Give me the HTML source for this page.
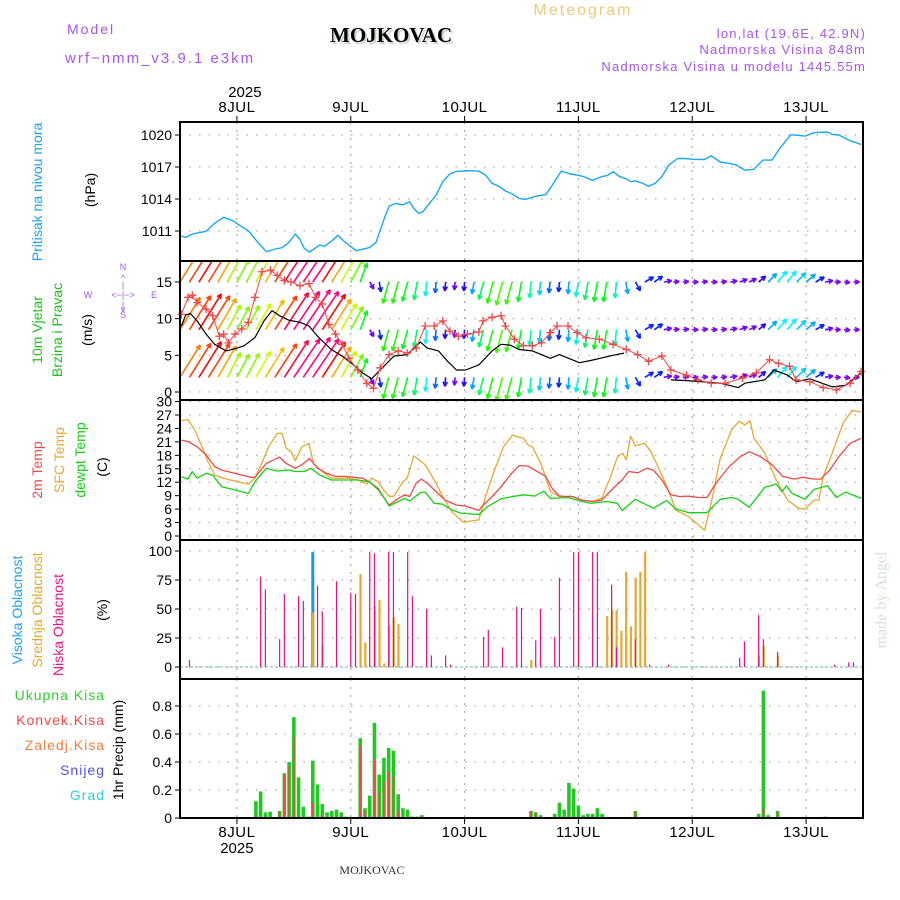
<!DOCTYPE html>
<html><head><meta charset="utf-8"><title>Meteogram MOJKOVAC</title>
<style>
html,body{margin:0;padding:0;background:#fff;}
svg{display:block;font-family:"Liberation Sans",sans-serif;}
</style></head>
<body>
<svg id="chart" xmlns="http://www.w3.org/2000/svg" width="900" height="900" viewBox="0 0 900 900">
<defs>
<clipPath id="clipWind"><rect x="180" y="262" width="683" height="139"/></clipPath>
</defs>
<g>
<text x="583" y="15" font-size="16" fill="#f2c878" text-anchor="middle" letter-spacing="2">Meteogram</text>
<text x="67" y="34" font-size="14" fill="#a855e8" letter-spacing="2">Model</text>
<text x="65" y="63" font-size="15" fill="#a855e8" letter-spacing="2">wrf−nmm_v3.9.1  e3km</text>
<text x="332" y="44" font-size="21" font-weight="bold" fill="#c8d8c8" font-family="Liberation Serif, serif">MOJKOVAC</text>
<text x="330" y="42" font-size="21" font-weight="bold" fill="#000" font-family="Liberation Serif, serif">MOJKOVAC</text>
<text x="866" y="38" font-size="13" fill="#a855e8" text-anchor="end" letter-spacing="1.2">lon,lat (19.6E, 42.9N)</text>
<text x="866" y="54" font-size="13" fill="#a855e8" text-anchor="end" letter-spacing="1.2">Nadmorska Visina 848m</text>
<text x="866" y="71" font-size="13" fill="#a855e8" text-anchor="end" letter-spacing="1.2">Nadmorska Visina u modelu 1445.55m</text>
<text transform="translate(886,600) rotate(-90)" font-size="16" fill="#d4e4d4" text-anchor="middle" font-family="Liberation Serif, serif">made by Angel</text>
<text x="372" y="874" font-size="12" fill="#333" text-anchor="middle" font-family="Liberation Serif, serif">MOJKOVAC</text>
</g>
<g>
<text transform="translate(42,192) rotate(-90)" font-size="14" fill="#20a0f0" text-anchor="middle">Pritisak na nivou mora</text>
<text transform="translate(95,190) rotate(-90)" font-size="14" fill="#000" text-anchor="middle">(hPa)</text>
<text transform="translate(42,330) rotate(-90)" font-size="14" fill="#20c020" text-anchor="middle">10m Vjetar</text>
<text transform="translate(62,330) rotate(-90)" font-size="14" fill="#20c020" text-anchor="middle">Brzina i Pravac</text>
<text transform="translate(92,330) rotate(-90)" font-size="14" fill="#000" text-anchor="middle">(m/s)</text>
<g fill="#a855e8" font-size="9" text-anchor="middle">
<text x="88" y="298">W</text><text x="154" y="298">E</text>
<text x="123" y="270" >N</text><text x="123" y="318">S</text>
<text x="123" y="298">&lt;−|−&gt;</text>
<text x="123" y="281">^</text><text x="123" y="288">|</text><text x="123" y="308">|</text><text x="123" y="312">v</text>
</g>
<text transform="translate(42,470) rotate(-90)" font-size="14" fill="#f04848" text-anchor="middle">2m Temp</text>
<text transform="translate(64,460) rotate(-90)" font-size="14" fill="#e8a830" text-anchor="middle">SFC Temp</text>
<text transform="translate(85,460) rotate(-90)" font-size="14" fill="#10d010" text-anchor="middle">dewpt Temp</text>
<text transform="translate(107,467) rotate(-90)" font-size="14" fill="#000" text-anchor="middle">(C)</text>
<text transform="translate(22,610) rotate(-90)" font-size="14" fill="#20a0f0" text-anchor="middle">Visoka Oblacnost</text>
<text transform="translate(42,610) rotate(-90)" font-size="14" fill="#e8a830" text-anchor="middle">Srednja Oblacnost</text>
<text transform="translate(63,625) rotate(-90)" font-size="14" fill="#f0107f" text-anchor="middle">Niska Oblacnost</text>
<text transform="translate(107,610) rotate(-90)" font-size="14" fill="#000" text-anchor="middle">(%)</text>
<text x="105" y="700" font-size="14" fill="#30d030" text-anchor="end" letter-spacing="1">Ukupna  Kisa</text>
<text x="105" y="725" font-size="14" fill="#f04848" text-anchor="end" letter-spacing="1">Konvek.Kisa</text>
<text x="105" y="750" font-size="14" fill="#f08040" text-anchor="end" letter-spacing="1">Zaledj.Kisa</text>
<text x="105" y="775" font-size="14" fill="#5050f0" text-anchor="end" letter-spacing="1">Snijeg</text>
<text x="105" y="800" font-size="14" fill="#30d0d0" text-anchor="end" letter-spacing="1">Grad</text>
<text transform="translate(123,750) rotate(-90)" font-size="14" fill="#000" text-anchor="middle">1hr Precip (mm)</text>
</g>
<g id="grid"></g>
<g id="marks"></g>
<g id="frames"></g>
</svg>
<script>
// ---------- data (hours since 8 JUL 00) ----------
const dayLabels = ["8JUL","9JUL","10JUL","11JUL","12JUL","13JUL"];
const pressTicks = [1011,1014,1017,1020];
const windTicks = [0,5,10,15];
const tempTicks = [0,3,6,9,12,15,18,21,24,27,30];
const cloudTicks = [0,25,50,75,100];
const precipTicks = [0,0.2,0.4,0.6,0.8];

const pressTimes = [-11.7,-10.8,-9.4,-8.0,-6.5,-4.7,-2.8,-0.9,1.0,2.4,4.3,6.2,8.1,9.5,10.9,12.3,13.3,14.2,15.3,17.5,18.4,19.9,21.3,22.7,25.1,27.9,29.3,31.2,32.1,33.5,35.0,36.4,37.3,38.3,39.2,40.6,42.0,43.4,44.9,46.3,48.6,51.0,52.4,53.8,55.2,56.6,58.1,59.5,60.9,63.2,65.1,66.5,68.4,70.3,71.7,73.1,75.0,76.9,78.1,79.3,80.7,82.1,83.0,84.0,85.4,86.8,88.2,89.6,91.1,92.9,94.4,96.2,98.6,100.0,101.9,103.8,105.2,107.1,109.0,110.9,112.8,114.6,116.8,119.8,121.7,124.5,125.5,126.9,129.3,131.6];
const pressVals = [1010.53,1010.4,1010.72,1010.84,1010.97,1011.72,1012.28,1011.97,1011.4,1011.03,1010.0,1009.06,1009.31,1009.43,1009.9,1010.72,1010.2,1009.37,1009.03,1009.7,1009.56,1010.03,1010.6,1010.0,1009.15,1009.43,1009.9,1012.34,1013.34,1013.59,1013.46,1013.75,1013.12,1012.65,1012.8,1013.59,1014.37,1015.62,1016.34,1016.59,1016.65,1016.62,1016.25,1015.47,1015.2,1014.75,1014.47,1014.06,1013.97,1014.28,1014.4,1015.3,1016.62,1016.34,1016.25,1016.1,1015.75,1016.1,1016.2,1016.56,1016.1,1015.9,1015.62,1015.7,1015.5,1015.2,1015.47,1016.1,1017.2,1017.8,1017.8,1017.72,1017.7,1018.06,1017.47,1017.34,1017.2,1016.7,1016.78,1017.65,1017.65,1018.84,1020.03,1019.9,1020.22,1020.28,1020.06,1020.0,1019.47,1019.12];

const speedTimes1 = [-11.7,-10.8,-9.8,-8.4,-6.5,-4.7,-2.3,-0.4,1.5,3.8,5.7,7.4,9.0,10.9,13.3,15.2,17.0,19.9,22.2,24.6,26.5,28.4,30.2,33.1,35.9,38.7,40.1,42.5,44.4,46.3,48.2,51.0,53.8,55.7,57.6,59.5,62.3,66.1,68.0,72.2,74.6,79.3,81.6];
const speedVals1 = [9.0,10.5,10.7,9.7,7.9,6.5,5.6,5.9,6.3,7.4,9.7,11.1,10.4,9.8,9.5,9.0,7.6,5.8,4.9,3.7,2.6,1.8,3.0,4.9,5.1,6.8,6.0,5.6,4.2,3.0,3.0,3.7,5.6,6.5,6.4,5.8,5.6,4.6,5.1,4.0,4.3,5.0,5.3];
const speedTimes2 = [91.5,96.2,101.9,105.7,107.1,111.3,113.2,116.1,117.9,120.8,125.5,128.3,131.6];
const speedVals2 = [1.65,1.5,1.2,0.6,1.2,1.65,3.0,2.3,1.4,1.8,0.7,0.9,2.6];

const gustTimes = [-11.7,-10.3,-9.4,-8.4,-6.5,-5.1,-3.7,-2.8,-1.8,-0.4,1.0,2.4,3.8,5.3,7.1,8.5,10.0,11.4,13.3,15.2,16.6,18.0,19.4,20.8,22.2,23.6,25.5,27.4,28.8,30.2,32.1,34.0,35.9,37.8,39.7,41.6,43.4,44.9,46.7,48.6,51.0,51.9,53.8,55.7,56.6,58.5,60.4,62.3,64.2,66.1,67.5,69.8,71.7,73.6,76.4,79.3,82.1,84.5,86.8,89.6,91.5,94.8,97.2,100.0,102.9,106.6,109.5,112.3,114.2,116.5,117.9,120.8,123.6,126.4,129.3,131.6];
const gustVals = [10.6,12.9,13.2,12.2,11.3,10.4,7.6,7.9,6.7,7.9,8.6,9.5,12.9,16.4,16.6,15.9,15.2,15.0,14.5,14.8,12.9,12.0,9.2,7.9,6.5,4.6,3.0,1.2,0.5,3.3,5.1,5.6,5.3,6.0,9.0,9.0,9.7,8.3,7.6,7.9,8.2,9.7,10.2,10.4,9.0,7.2,6.3,6.3,6.7,8.1,9.0,9.0,8.1,7.4,7.2,6.5,5.8,5.1,4.2,4.9,3.0,2.3,1.65,1.2,1.2,1.9,2.6,4.4,3.9,3.5,1.65,1.4,0.6,0.3,1.2,2.8];

// wind vectors every 2 h from -12 to 132: arrow length (px) and direction (deg, math angle)
const windTimes = [-12,-10,-8,-6,-4,-2,0,2,4,6,8,10,12,14,16,18,20,22,24,26,28,30,32,34,36,38,40,42,44,46,48,50,52,54,56,58,60,62,64,66,68,70,72,74,76,78,80,82,84,86,88,90,92,94,96,98,100,102,104,106,108,110,112,114,116,118,120,122,124,126,128,130,132];
const windLen = [38,40,42,40,36,28,26,27,30,35,40,44,46,48,46,42,36,30,26,20,8,10,22,22,20,18,14,11,9,8,9,12,18,22,24,23,20,16,13,11,10,12,15,18,20,20,16,12,10,10,10,8,6,6,6,6,6,6,7,8,8,9,12,14,14,13,12,10,8,6,6,6,6];
const windAng = [58,58,58,58,60,62,62,62,60,58,57,57,56,56,56,57,58,60,62,70,-60,-80,-105,-105,-105,-100,-95,-95,-95,-95,-95,-100,-105,-105,-105,-105,-100,-95,-95,-95,-95,-95,-100,-100,-100,-100,-95,-80,-60,30,35,10,5,5,0,5,0,5,10,20,25,40,45,50,50,45,40,30,10,0,-5,0,5];
const windRowBases = [15, 8.5, 2];

const t2Times = [-11.7,-10.3,-8.4,-6.5,-4.7,-3.2,-0.9,1.0,2.9,3.8,4.8,6.2,9.0,10.4,12.3,13.7,15.3,17.0,18.9,20.8,22.7,24.6,26.5,27.9,29.8,32.1,33.5,35.4,36.4,37.8,38.9,40.1,42.0,43.9,46.3,48.2,51.0,51.9,53.8,55.7,57.6,59.5,61.4,62.8,65.1,66.5,68.0,70.8,72.7,75.0,76.9,79.3,81.2,82.6,84.5,86.4,87.8,89.6,91.5,93.4,95.3,97.2,99.1,101.0,103.8,106.1,108.0,110.4,112.8,115.1,117.5,119.3,121.7,123.1,125.0,126.9,129.3,131.6];
const t2Vals = [21.4,21.06,19.9,18.1,15.5,14.7,14.1,13.6,13.1,13.1,14.4,16.2,17.6,16.2,15.1,15.9,17.3,15.1,14.0,13.3,13.3,13.1,12.9,12.1,10.3,6.9,8.0,9.2,8.8,11.8,12.7,11.8,9.9,8.0,6.9,6.7,5.7,6.9,8.8,11.0,13.6,15.7,15.6,14.7,13.3,10.6,8.9,8.8,8.0,7.7,8.0,10.6,12.5,14.4,14.1,15.1,14.7,12.5,9.2,8.8,8.9,8.6,8.6,11.8,15.5,17.7,18.8,17.7,15.9,13.3,12.7,13.1,12.7,12.7,14.7,17.7,20.7,21.8];
const sfcTimes = [-11.7,-10.3,-8.9,-7.5,-6.1,-4.7,-2.8,0.1,2.4,3.8,5.2,6.7,8.5,9.5,10.4,11.4,12.3,13.7,15.2,16.1,18.0,19.9,23.6,25.5,27.4,28.4,29.8,30.7,32.1,33.1,35.0,35.9,37.3,39.7,41.6,43.4,45.3,47.7,51.0,52.4,54.3,56.2,58.1,60.4,61.4,62.3,64.2,66.1,68.0,70.8,72.7,75.0,76.9,78.8,80.2,81.3,82.1,83.0,84.0,85.9,87.3,89.6,91.5,92.5,95.3,98.6,100.0,101.9,104.3,105.9,107.1,108.2,109.0,111.3,113.7,116.1,118.4,119.8,121.7,122.7,123.6,125.5,127.8,129.7,131.6];
const sfcVals = [25.8,25.9,23.7,20.3,16.6,13.6,12.9,12.1,11.6,12.9,16.2,19.9,22.9,22.9,19.6,18.8,16.8,19.9,20.7,16.2,14.4,12.9,12.9,12.5,11.6,12.9,12.1,10.6,8.8,8.9,12.1,12.9,17.9,15.9,12.5,8.8,5.4,3.1,3.6,8.8,14.7,19.9,22.5,21.8,20.3,19.9,15.9,9.9,8.8,8.8,8.0,7.7,8.4,13.3,17.6,18.5,17.0,22.3,20.1,20.7,18.8,13.6,8.8,5.8,4.3,1.3,7.3,17.3,23.7,25.6,24.8,25.7,21.8,18.5,12.5,8.0,6.2,6.0,8.0,8.0,13.2,18.5,25.2,28.0,27.7];
const dewTimes = [-11.7,-10.3,-9.4,-8.4,-6.5,-5.1,-3.2,-0.9,2.4,3.8,6.2,8.5,10.9,12.3,14.2,15.6,17.5,19.9,25.5,27.9,29.8,32.1,34.0,35.4,36.4,38.7,39.7,41.6,43.4,45.3,47.2,51.0,52.9,55.7,58.1,60.4,62.8,64.7,66.1,69.8,72.7,74.6,77.9,80.2,81.2,84.0,87.8,90.6,92.5,95.3,99.1,101.9,104.3,105.7,108.0,111.3,113.7,114.9,115.9,117.0,119.8,121.7,124.5,126.4,128.3,131.6];
const dewVals = [13.2,12.7,14.4,12.9,14.0,13.6,11.0,10.4,9.5,12.1,15.1,14.5,14.7,14.4,14.4,15.1,13.6,12.5,12.5,12.1,10.6,6.7,7.7,8.4,7.8,9.7,9.8,7.3,7.1,5.8,5.1,4.8,6.6,8.3,8.8,9.2,8.9,10.0,8.4,8.6,7.7,7.3,7.7,7.3,5.7,8.2,6.2,7.9,6.1,5.2,5.2,8.2,8.6,8.2,6.4,10.9,11.6,9.9,11.2,9.5,8.2,10.4,11.2,8.6,9.8,8.4];

const lowCloudHours = [-10,5,6,9,10,13,14,17,18,21,24,25,28,29,32,33,36,37,40,41,44,45,52,53,56,59,60,63,64,67,68,71,72,75,76,79,80,84,87,91,106,107,110,111,114,126,129,130];
const lowCloudVals = [6,78,67,24,63,61,57,70,48,74,64,63,99,98,99,99,99,61,50,10,10,2,26,32,17,52,51,23,50,26,77,99,99,99,99,71,17,24,2,2,8,22,45,24,13,2,4,4];
const midCloudHours = [16,18,26,27,29,30,31,32,33,34,62,78,79,80,81,82,83,84,85,86,110,111,114];
const midCloudVals = [47,19,80,21,52,58,3,36,43,37,6,44,49,49,31,82,35,77,82,99,10,18,10];
const highCloudHours = [16];
const highCloudVals = [99];

const precipHours = [4,5,6,7,9,10,11,12,13,14,15,16,17,18,19,20,21,22,23,26,27,28,29,30,31,32,33,34,35,36,37,38,39,62,63,64,67,68,69,70,71,72,73,74,75,76,77,84,110,111,112,114,124];
const precipTotal = [0.12,0.19,0.04,0.045,0.05,0.32,0.40,0.72,0.29,0.08,0.01,0.41,0.24,0.10,0.04,0.05,0.06,0.04,0.01,0.57,0.07,0.16,0.68,0.31,0.43,0.50,0.48,0.17,0.07,0.06,0.01,0.01,0.02,0.05,0.04,0.02,0.03,0.11,0.06,0.25,0.21,0.09,0.02,0.03,0.03,0.07,0.03,0.05,0.03,0.91,0.02,0.05,0.01];
const convHours = [9,10,11,12,16,18,26,27,29,30,31,32,33,34,62,63,84,111,114];
const convVals = [0.05,0.31,0.37,0.58,0.11,0.02,0.52,0.05,0.42,0.19,0.26,0.33,0.30,0.05,0.05,0.04,0.05,0.07,0.045];

// ---------- scales ----------
const X0 = 180, X1 = 863, H0 = -12, H1 = 132;
function xs(h){ return X0 + (h - H0) * (X1 - X0) / (H1 - H0); }
function lin(d0,d1,r0,r1){ return v => r0 + (v - d0) * (r1 - r0) / (d1 - d0); }
const yP = lin(1011,1020,231,135);
const yW = lin(0,15,392,282);
const yT = lin(0,27,536,415);
const yC = lin(0,100,667,551);
const yR = lin(0,0.8,818,706);
const panels = [[122,261],[261,400],[400,540],[540,679],[679,818]];

const NS = "http://www.w3.org/2000/svg";
function mk(tag, attrs, parent){ const e = document.createElementNS(NS, tag); for (const k in attrs) e.setAttribute(k, attrs[k]); parent.appendChild(e); return e; }
const grid = document.getElementById('grid');
const marks = document.getElementById('marks');
const frames = document.getElementById('frames');

function hGrid(ticks, ys, name, fmt){
  ticks.forEach(t => {
    const y = ys(t);
    const l = mk('line', {x1:X0, x2:X1, y1:y, y2:y, stroke:'#aaa', 'stroke-width':1.2, 'stroke-dasharray':'1.5 8'}, grid);
    
    
    const tk = mk('line', {x1:X0-5, x2:X0, y1:y, y2:y, stroke:'#000', 'stroke-width':1}, grid);
    
    
    const tx = mk('text', {x:X0-8, y:y+5, 'font-size':14, 'text-anchor':'end', fill:'#000'}, grid);
    
    
    tx.textContent = fmt ? fmt(t) : String(t);
  });
}
hGrid(pressTicks, yP, 'pressure');
hGrid(windTicks, yW, 'wind');
hGrid(tempTicks, yT, 'temp');
hGrid(cloudTicks, yC, 'cloud');
hGrid(precipTicks, yR, 'precip', t => t === 0 ? '0' : t.toFixed(1));

dayLabels.forEach((d, i) => {
  const x = xs(i * 24);
  panels.forEach(p => {
    const l = mk('line', {x1:x, x2:x, y1:p[0], y2:p[1], stroke:'#aaa', 'stroke-width':1.2, 'stroke-dasharray':'2 6'}, grid);
    
    
  });
  const t1 = mk('text', {x:x, y:112, 'font-size':15, 'text-anchor':'middle', fill:'#000', 'letter-spacing':0.5}, grid);
  
  
  t1.textContent = d;
  const t2 = mk('text', {x:x, y:837, 'font-size':15, 'text-anchor':'middle', fill:'#000', 'letter-spacing':0.5}, grid);
  
  
  t2.textContent = d;
  const tk = mk('line', {x1:x, x2:x, y1:116, y2:122, stroke:'#000'}, grid);
  
  
  const tkb = mk('line', {x1:x, x2:x, y1:818, y2:824, stroke:'#000'}, grid);
  
  
});
const yr1 = mk('text', {x:xs(0)+8, y:97, 'font-size':15, 'text-anchor':'middle', fill:'#000'}, grid);


yr1.textContent = '2025';
const yr2 = mk('text', {x:xs(0), y:853, 'font-size':15, 'text-anchor':'middle', fill:'#000'}, grid);


yr2.textContent = '2025';

function poly(times, vals, ys, color, name, width){
  const pts = times.map((t, i) => xs(t).toFixed(1) + ',' + ys(vals[i]).toFixed(1)).join(' ');
  const p = mk('polyline', {points:pts, fill:'none', stroke:color, 'stroke-width':width || 1.3, 'stroke-linejoin':'round'}, marks);
  
  
  return p;
}
poly(pressTimes, pressVals, yP, '#1aa6f2', 'pressure-line', 1.4);

// colour ramp by arrow length (styling, not data)
function windHue(len){
  const stops = [[0,280],[8,265],[12,200],[20,125],[28,80],[38,30],[46,-30],[60,-40]];
  for (let i = 1; i < stops.length; i++) {
    if (len <= stops[i][0]) {
      const a = stops[i-1], b = stops[i];
      return a[1] + (len - a[0]) * (b[1] - a[1]) / (b[0] - a[0]);
    }
  }
  return -40;
}
const windG = mk('g', {'clip-path':'url(#clipWind)'}, marks);


windRowBases.forEach(base => {
  windTimes.forEach((t, i) => {
    const len = windLen[i], a = windAng[i] * Math.PI / 180;
    const x0 = xs(t), y0 = yW(base);
    const x1 = x0 + len * Math.cos(a), y1 = y0 - len * Math.sin(a);
    const hue = ((windHue(len) % 360) + 360) % 360;
    const col = 'hsl(' + hue.toFixed(0) + ',95%,50%)';
    const g = mk('g', {stroke:col, 'stroke-width':1.6, fill:'none'}, windG);
    
    
    mk('line', {x1:x0, y1:y0, x2:x1, y2:y1}, g);
    const hl = 5;
    [a + Math.PI - 0.45, a + Math.PI + 0.45].forEach(b => {
      mk('line', {x1:x1, y1:y1, x2:x1 + hl * Math.cos(b), y2:y1 - hl * Math.sin(b)}, g);
    });
  });
});
poly(speedTimes1, speedVals1, yW, '#000', 'wind-speed-line', 1.2);
poly(speedTimes2, speedVals2, yW, '#000', 'wind-speed-line-2', 1.2);
poly(gustTimes, gustVals, yW, '#f04848', 'wind-gust-line', 1);
gustTimes.forEach((t, i) => {
  const x = xs(t), y = yW(gustVals[i]);
  const c = mk('path', {d:'M'+(x-4)+' '+y+'h8M'+x+' '+(y-4)+'v8', stroke:'#f04848', 'stroke-width':1.3}, marks);
  
  
});

poly(sfcTimes, sfcVals, yT, '#e8a830', 'sfc-temp-line', 1.3);
poly(t2Times, t2Vals, yT, '#f04848', '2m-temp-line', 1.3);
poly(dewTimes, dewVals, yT, '#18d018', 'dewpoint-line', 1.3);

function bars(hours, vals, ys, color, w, name, off){
  hours.forEach((h, i) => {
    const x = xs(h) + (off || 0), y = ys(vals[i]), y0 = ys(0);
    const r = mk('rect', {x:x - w/2, y:Math.min(y, y0), width:w, height:Math.abs(y0 - y), fill:color}, marks);
    
    
  });
}
const cb = mk('line', {x1:X0, x2:X1, y1:yC(0), y2:yC(0), stroke:'#9cc', 'stroke-width':1.5, 'stroke-dasharray':'3 2'}, marks);


bars(highCloudHours, highCloudVals, yC, '#1898f0', 3, 'high-cloud-bar', 0);
bars(midCloudHours, midCloudVals, yC, '#e8a830', 2.2, 'mid-cloud-bar', 0.3);
bars(lowCloudHours, lowCloudVals, yC, '#e8107f', 1.2, 'low-cloud-bar', 0);

bars(precipHours, precipTotal, yR, '#22c822', 3.6, 'total-precip-bar', 0);
bars(convHours, convVals, yR, '#f04848', 1.6, 'convective-precip-bar', 0);
const pb = mk('line', {x1:X0, x2:X1, y1:818, y2:818, stroke:'#000', 'stroke-width':2, 'stroke-dasharray':'4 2'}, marks);



panels.forEach((p, i) => {
  const r = mk('rect', {x:X0, y:p[0], width:X1 - X0, height:p[1] - p[0], fill:'none', stroke:'#000', 'stroke-width':2}, frames);
  
  
});
</script>
</body></html>
